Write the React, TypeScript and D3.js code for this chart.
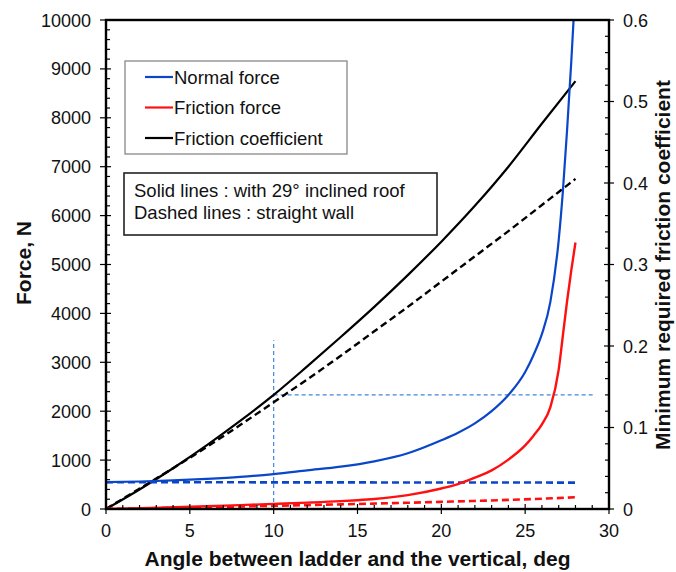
import React, { useEffect, useRef } from "react";
import * as d3 from "d3";

// ticks
const angleTicks = [0, 5, 10, 15, 20, 25, 30];
const forceTicks = [0, 1000, 2000, 3000, 4000, 5000, 6000, 7000, 8000, 9000, 10000];
const coefTicks = [0, 0.1, 0.2, 0.3, 0.4, 0.5, 0.6];

// normal force, inclined roof (solid blue)
const normalAngle = [0, 2, 4, 6, 8, 10, 12, 14, 16, 18, 20, 21, 22, 23, 24, 25, 25.5, 26, 26.5, 27, 27.25, 27.5, 27.75, 28];
const normalSolid = [550, 562, 585, 615, 655, 715, 790, 865, 975, 1140, 1405, 1560, 1750, 2000, 2330, 2800, 3150, 3580, 4230, 5500, 6500, 7750, 9150, 10700];

// normal force, straight wall (dashed blue)
const normalWallAngle = [0, 7, 14, 21, 28];
const normalDashed = [548, 546, 544, 542, 540];

// friction force, inclined roof (solid red)
const frictionAngle = [0, 2, 4, 6, 8, 10, 12, 14, 15, 16, 18, 20, 21, 22, 23, 24, 25, 25.5, 26, 26.5, 27, 27.25, 27.5, 27.75, 28];
const frictionSolid = [0, 15, 35, 55, 80, 105, 130, 160, 180, 205, 285, 420, 510, 640, 790, 1010, 1300, 1500, 1730, 2080, 2850, 3550, 4250, 4880, 5450];

// friction coefficient + friction force for straight wall
const coefAngle = [0, 2, 4, 6, 8, 10, 12, 14, 16, 18, 20, 22, 24, 26, 28];
const coefSolid = [0, 0.024, 0.05, 0.078, 0.108, 0.14, 0.175, 0.211, 0.248, 0.287, 0.328, 0.372, 0.42, 0.473, 0.525];
const coefDashed = [0, 0.025, 0.05, 0.076, 0.103, 0.131, 0.159, 0.188, 0.218, 0.248, 0.279, 0.31, 0.341, 0.373, 0.405];
const frictionDashed = [0, 12, 25, 38, 52, 66, 80, 95, 111, 128, 146, 165, 186, 210, 240];

// guide lines
const guideAngle = 10;
const guideTopForce = 3450;
const guideCoef = 0.14;
const guideEndAngle = 29.1;

const legendItems = [
  { label: "Normal force", color: "#0a46c8" },
  { label: "Friction force", color: "#ff1010" },
  { label: "Friction coefficient", color: "#000000" },
];
const noteLines = ["Solid lines : with 29\u00b0 inclined roof", "Dashed lines : straight wall"];

export default function App() {
  const containerRef = useRef(null);

  useEffect(() => {
    document.body.style.margin = "0";
    drawChart();
  }, []);

  function drawChart() {
    const width = 676;
    const height = 572;
    const left = 106,
      right = 609,
      top = 20,
      bottom = 509;
    const font = "'Liberation Sans', Arial, sans-serif";

    d3.select(containerRef.current).selectAll("*").remove();

    const svg = d3
      .select(containerRef.current)
      .append("svg")
      .attr("width", width)
      .attr("height", height)
      .style("display", "block")
      .style("background", "#fff");

    const x = d3.scaleLinear().domain([0, 30]).range([left, right]);
    const y = d3.scaleLinear().domain([0, 10000]).range([bottom, top]);
    const yc = d3.scaleLinear().domain([0, 0.6]).range([bottom, top]);

    svg
      .append("defs")
      .append("clipPath")
      .attr("id", "plot-clip")
      .append("rect")
      .attr("x", left)
      .attr("y", top)
      .attr("width", right - left)
      .attr("height", bottom - top);

    const plot = svg.append("g").attr("clip-path", "url(#plot-clip)");

    // guide lines
    const guideColor = "#3f86dc";
    plot
      .append("line")
      .attr("x1", x(guideAngle))
      .attr("x2", x(guideAngle))
      .attr("y1", y(0))
      .attr("y2", y(guideTopForce))
      .attr("stroke", guideColor)
      .attr("stroke-width", 1.2)
      .attr("stroke-dasharray", "4,3");
    plot
      .append("line")
      .attr("x1", x(guideAngle))
      .attr("x2", x(guideEndAngle))
      .attr("y1", yc(guideCoef))
      .attr("y2", yc(guideCoef))
      .attr("stroke", guideColor)
      .attr("stroke-width", 1.2)
      .attr("stroke-dasharray", "4,3");

    const lineForce = (xs, ys) =>
      d3
        .line()
        .x((d, i) => x(xs[i]))
        .y((d) => y(d))
        .curve(d3.curveMonotoneX)(ys);
    const lineCoef = (xs, ys) =>
      d3
        .line()
        .x((d, i) => x(xs[i]))
        .y((d) => yc(d))
        .curve(d3.curveMonotoneX)(ys);

    const curves = [
      { d: lineCoef(coefAngle, coefDashed), color: "#000", dash: "7,4", w: 2.4 },
      { d: lineCoef(coefAngle, coefSolid), color: "#000", dash: null, w: 2.2 },
      { d: lineForce(normalWallAngle, normalDashed), color: "#0a46c8", dash: "7,4", w: 2.6 },
      { d: lineForce(coefAngle, frictionDashed), color: "#ff1010", dash: "7,4", w: 2.6 },
      { d: lineForce(normalAngle, normalSolid), color: "#0a46c8", dash: null, w: 2.2 },
      { d: lineForce(frictionAngle, frictionSolid), color: "#ff1010", dash: null, w: 2.4 },
    ];

    plot
      .selectAll("path.curve")
      .data(curves)
      .join("path")
      .attr("class", "curve")
      .attr("d", (c) => c.d)
      .attr("fill", "none")
      .attr("stroke", (c) => c.color)
      .attr("stroke-width", (c) => c.w)
      .attr("stroke-dasharray", (c) => c.dash);

    // frame
    svg
      .append("rect")
      .attr("x", left)
      .attr("y", top)
      .attr("width", right - left)
      .attr("height", bottom - top)
      .attr("fill", "none")
      .attr("stroke", "#000")
      .attr("stroke-width", 2.4);

    const tickStyle = (g) => g.attr("stroke", "#000").attr("stroke-width", 1.2);

    // left axis ticks
    const gl = svg.append("g").call(tickStyle);
    gl.selectAll("line.major")
      .data(forceTicks)
      .join("line")
      .attr("x1", left - 6)
      .attr("x2", left + 5)
      .attr("y1", (d) => y(d))
      .attr("y2", (d) => y(d));
    gl.selectAll("line.minor")
      .data(d3.range(0, 10001, 200).filter((v) => v % 1000 !== 0))
      .join("line")
      .attr("x1", left)
      .attr("x2", left + 4)
      .attr("y1", (d) => y(d))
      .attr("y2", (d) => y(d));

    // right axis ticks
    const gr = svg.append("g").call(tickStyle);
    gr.selectAll("line.major")
      .data(coefTicks)
      .join("line")
      .attr("x1", right - 5)
      .attr("x2", right + 5)
      .attr("y1", (d) => yc(d))
      .attr("y2", (d) => yc(d));
    gr.selectAll("line.minor")
      .data(d3.range(1, 30).filter((v) => v % 5 !== 0).map((v) => v * 0.02))
      .join("line")
      .attr("x1", right - 4)
      .attr("x2", right)
      .attr("y1", (d) => yc(d))
      .attr("y2", (d) => yc(d));

    // bottom axis ticks
    const gb = svg.append("g").call(tickStyle);
    gb.selectAll("line.major")
      .data(angleTicks)
      .join("line")
      .attr("x1", (d) => x(d))
      .attr("x2", (d) => x(d))
      .attr("y1", bottom - 5)
      .attr("y2", bottom + 5);
    gb.selectAll("line.minor")
      .data(d3.range(1, 30).filter((v) => v % 5 !== 0))
      .join("line")
      .attr("x1", (d) => x(d))
      .attr("x2", (d) => x(d))
      .attr("y1", bottom - 4)
      .attr("y2", bottom);

    // tick labels
    const labels = svg
      .append("g")
      .attr("font-family", font)
      .attr("font-size", 18)
      .attr("fill", "#111");
    labels
      .selectAll("text.yl")
      .data(forceTicks)
      .join("text")
      .attr("x", left - 15)
      .attr("y", (d) => y(d) + 6.5)
      .attr("text-anchor", "end")
      .text((d) => d);
    labels
      .selectAll("text.yr")
      .data(coefTicks)
      .join("text")
      .attr("class", "yr")
      .attr("x", right + 14)
      .attr("y", (d) => yc(d) + 6.5)
      .attr("text-anchor", "start")
      .text((d) => (d === 0 ? "0" : d3.format(".1f")(d)));
    labels
      .selectAll("text.xb")
      .data(angleTicks)
      .join("text")
      .attr("class", "xb")
      .attr("x", (d) => x(d))
      .attr("y", 537)
      .attr("text-anchor", "middle")
      .text((d) => d);

    // axis titles
    const titles = svg
      .append("g")
      .attr("font-family", font)
      .attr("font-size", 21)
      .attr("font-weight", "bold")
      .attr("fill", "#111")
      .attr("text-anchor", "middle");
    titles
      .append("text")
      .attr("x", (left + right) / 2)
      .attr("y", 566)
      .text("Angle between ladder and the vertical, deg");
    titles
      .append("text")
      .attr("transform", `translate(31,263) rotate(-90)`)
      .text("Force, N");
    titles
      .append("text")
      .attr("transform", `translate(670,265) rotate(-90)`)
      .text("Minimum required friction coefficient");

    // legend box
    const legend = svg.append("g").attr("font-family", font).attr("font-size", 18.5);
    legend
      .append("rect")
      .attr("x", 125)
      .attr("y", 61)
      .attr("width", 222)
      .attr("height", 93)
      .attr("fill", "#fff")
      .attr("stroke", "#888")
      .attr("stroke-width", 1.3);
    const rowY = [77, 107.5, 138];
    legend
      .selectAll("line.key")
      .data(legendItems)
      .join("line")
      .attr("x1", 145)
      .attr("x2", 173)
      .attr("y1", (d, i) => rowY[i])
      .attr("y2", (d, i) => rowY[i])
      .attr("stroke", (d) => d.color)
      .attr("stroke-width", 2.2);
    legend
      .selectAll("text.key")
      .data(legendItems)
      .join("text")
      .attr("x", 174)
      .attr("y", (d, i) => rowY[i] + 6.5)
      .attr("fill", "#111")
      .text((d) => d.label);

    // note box
    const note = svg.append("g").attr("font-family", font).attr("font-size", 18.5);
    note
      .append("rect")
      .attr("x", 124)
      .attr("y", 173)
      .attr("width", 313)
      .attr("height", 62)
      .attr("fill", "#fff")
      .attr("stroke", "#222")
      .attr("stroke-width", 1.6);
    note
      .selectAll("text")
      .data(noteLines)
      .join("text")
      .attr("x", 134)
      .attr("y", (d, i) => 197 + i * 21.5)
      .attr("fill", "#111")
      .text((d) => d);
  }

  return (
    <div>
      <div ref={containerRef}></div>
    </div>
  );
}
